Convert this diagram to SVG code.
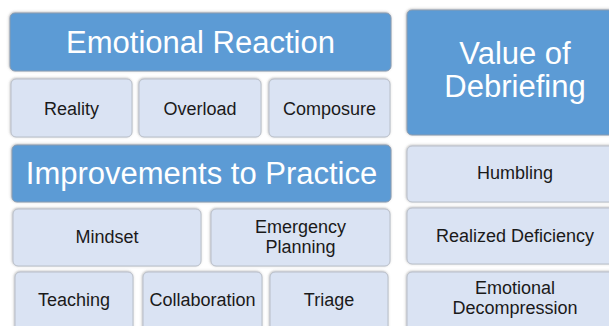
<svg xmlns="http://www.w3.org/2000/svg" width="609" height="326" viewBox="0 0 609 326">
  <defs>
    <filter id="soft" x="-5%" y="-10%" width="110%" height="120%">
      <feDropShadow dx="-0.5" dy="-0.5" stdDeviation="1.2" flood-color="#606060" flood-opacity="0.45"/>
    </filter>
  </defs>
  <style>
    rect { rx: 5px; ry: 5px; filter: url(#soft); stroke-width: 1; }
    .head rect { fill: #5b9bd5; stroke: #8a9bb0; }
    .item rect { fill: #dae3f3; stroke: #b8bec8; }
    text { font-family: "Liberation Sans", Arial, sans-serif; text-anchor: middle; }
    .head text { fill: #ffffff; font-size: 31px; }
    .item text { fill: #1a1a1a; font-size: 18px; }
  </style>
  <rect x="0" y="0" width="609" height="326" fill="#ffffff" style="filter:none;stroke:none;rx:0;ry:0"/>

  <g id="connectors"></g>

  <!-- Emotional Reaction column -->
  <g id="emotional-reaction" class="head">
    <rect x="10" y="13" width="381" height="58"/>
    <text x="200.5" y="53">Emotional Reaction</text>
  </g>
  <g id="reality" class="item">
    <rect x="11" y="79" width="121" height="58"/>
    <text x="71.5" y="114.5">Reality</text>
  </g>
  <g id="overload" class="item">
    <rect x="139" y="79" width="122" height="58"/>
    <text x="200" y="114.5">Overload</text>
  </g>
  <g id="composure" class="item">
    <rect x="269" y="79" width="121" height="58"/>
    <text x="329.5" y="114.5">Composure</text>
  </g>

  <!-- Improvements to Practice -->
  <g id="improvements" class="head">
    <rect x="12" y="145" width="379" height="57"/>
    <text x="201.5" y="184">Improvements to Practice</text>
  </g>
  <g id="mindset" class="item">
    <rect x="13" y="209" width="188" height="57"/>
    <text x="107" y="243">Mindset</text>
  </g>
  <g id="emergency-planning" class="item">
    <rect x="211" y="209" width="179" height="57"/>
    <text x="300.5" y="233">Emergency</text>
    <text x="300.5" y="253">Planning</text>
  </g>
  <g id="teaching" class="item">
    <rect x="15" y="272" width="118" height="62"/>
    <text x="74" y="306">Teaching</text>
  </g>
  <g id="collaboration" class="item">
    <rect x="143" y="272" width="119" height="62"/>
    <text x="202.5" y="306">Collaboration</text>
  </g>
  <g id="triage" class="item">
    <rect x="270" y="272" width="118" height="62"/>
    <text x="329" y="306">Triage</text>
  </g>

  <!-- Value of Debriefing column -->
  <g id="value-of-debriefing" class="head">
    <rect x="407" y="10" width="216" height="125"/>
    <text x="515" y="64">Value of</text>
    <text x="515" y="97">Debriefing</text>
  </g>
  <g id="humbling" class="item">
    <rect x="407" y="146" width="216" height="56"/>
    <text x="515" y="178.5">Humbling</text>
  </g>
  <g id="realized-deficiency" class="item">
    <rect x="407" y="208" width="216" height="56"/>
    <text x="515" y="242">Realized Deficiency</text>
  </g>
  <g id="emotional-decompression" class="item">
    <rect x="407" y="272" width="216" height="62"/>
    <text x="515" y="294">Emotional</text>
    <text x="515" y="314">Decompression</text>
  </g>
</svg>
